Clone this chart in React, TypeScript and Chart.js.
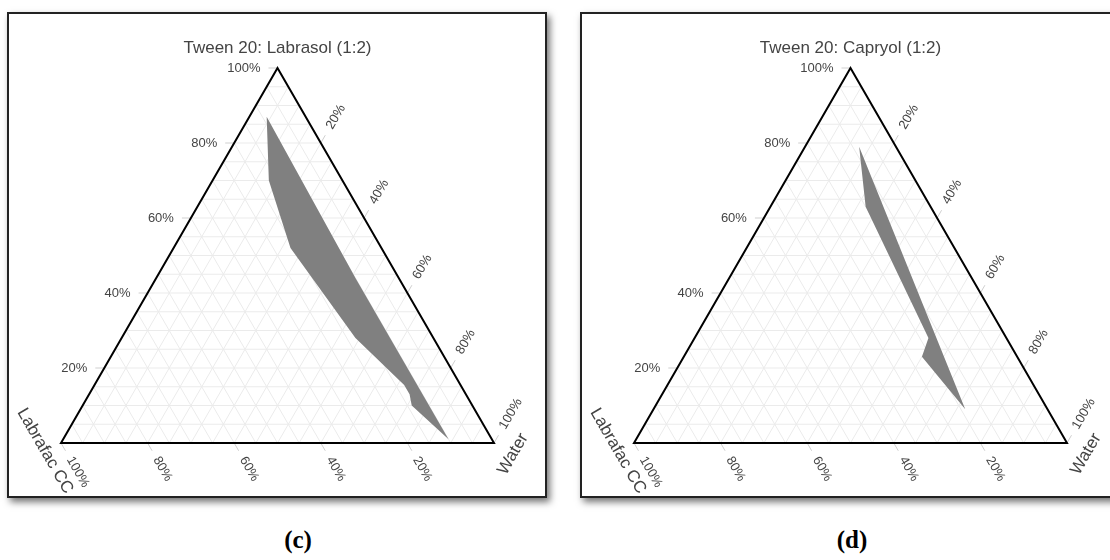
import React, { useEffect, useRef } from "react";
import { Chart, registerables } from "chart.js";

Chart.register(...registerables);

// ---------- data ----------
const tickValues = [0.2, 0.4, 0.6, 0.8, 1.0];
const tickLabels = ["20%", "40%", "60%", "80%", "100%"];
const gridStep = 0.05;

// Panel (c)
const titleC_a = "Tween 20: Labrasol (1:2)";
const titleC_b = "Labrafac CC";
const titleC_c = "Water";
const regionC_tween = [0.87, 0.70, 0.52, 0.28, 0.155, 0.13, 0.10, 0.01, 0.44];
const regionC_oil = [0.09, 0.17, 0.21, 0.18, 0.13, 0.13, 0.14, 0.10, 0.10];
const regionC_water = [0.04, 0.13, 0.27, 0.54, 0.715, 0.74, 0.76, 0.89, 0.46];

// Panel (d)
const titleD_a = "Tween 20: Capryol (1:2)";
const titleD_b = "Labrafac CC";
const titleD_c = "Water";
const regionD_tween = [0.79, 0.63, 0.28, 0.23, 0.09];
const regionD_oil = [0.085, 0.15, 0.18, 0.22, 0.19];
const regionD_water = [0.125, 0.22, 0.54, 0.55, 0.72];

const panelLabels = ["(c)", "(d)"];

// ---------- layout / style ----------
const FONT = '"Liberation Sans", Arial, sans-serif';
const S3 = Math.sqrt(3) / 2;
const PANEL_W = 540;
const PANEL_H = 486;
const BORDER = 2;
const CANVAS_W = PANEL_W - 2 * BORDER;
const CANVAS_H = PANEL_H - 2 * BORDER;
const SIDE = 433; // px per unit of triangle side
const TRI_LEFT = 52; // px from canvas left to bottom-left vertex
const TRI_BOTTOM = 429; // px from canvas top to bottom edge

function tern(a: number, b: number, c: number) {
  const s = a + b + c;
  return { x: (c + a / 2) / s, y: (a * S3) / s };
}

const GAP = { x: NaN, y: NaN };

function gridData(axis: "a" | "b" | "c") {
  const pts: any[] = [];
  const n = Math.round(1 / gridStep);
  for (let i = 1; i < n; i++) {
    const k = i * gridStep;
    if (axis === "a") pts.push(tern(k, 1 - k, 0), tern(k, 0, 1 - k), GAP);
    if (axis === "b") pts.push(tern(0, k, 1 - k), tern(1 - k, k, 0), GAP);
    if (axis === "c") pts.push(tern(1 - k, 0, k), tern(0, 1 - k, k), GAP);
  }
  return pts;
}

function tickData() {
  const L = 9 / SIDE;
  const pts: any[] = [];
  tickValues.forEach((v) => {
    const pa = tern(v, 1 - v, 0);
    pts.push(pa, { x: pa.x - L, y: pa.y }, GAP);
    const pb = tern(0, v, 1 - v);
    pts.push(pb, { x: pb.x + L * 0.5, y: pb.y - L * S3 }, GAP);
    const pc = tern(1 - v, 0, v);
    pts.push(pc, { x: pc.x + L * 0.5, y: pc.y + L * S3 }, GAP);
  });
  return pts;
}

const labelPlugin = {
  id: "ternaryLabels",
  afterDraw(chart: any, _args: any, opts: any) {
    const { ctx } = chart;
    const xs = chart.scales.x;
    const ys = chart.scales.y;
    const P = (a: number, b: number, c: number) => {
      const t = tern(a, b, c);
      return { x: xs.getPixelForValue(t.x), y: ys.getPixelForValue(t.y) };
    };
    ctx.save();
    ctx.fillStyle = "#444";
    ctx.font = `13px ${FONT}`;
    const off = 17;
    tickValues.forEach((v, i) => {
      const p = P(v, 1 - v, 0);
      ctx.textAlign = "right";
      ctx.textBaseline = "middle";
      ctx.fillText(tickLabels[i], p.x - off, p.y);

      const pb = P(0, v, 1 - v);
      ctx.save();
      ctx.translate(pb.x + off * 0.5, pb.y + off * S3);
      ctx.rotate(Math.PI / 3);
      ctx.textAlign = "left";
      ctx.fillText(tickLabels[i], 0, 0);
      ctx.restore();

      const pc = P(1 - v, 0, v);
      ctx.save();
      ctx.translate(pc.x + off * 0.5, pc.y - off * S3);
      ctx.rotate(-Math.PI / 3);
      ctx.textAlign = "left";
      ctx.fillText(tickLabels[i], 0, 0);
      ctx.restore();
    });

    ctx.font = `17px ${FONT}`;
    ctx.fillStyle = "#444";
    ctx.textAlign = "center";
    ctx.textBaseline = "middle";
    const apex = P(1, 0, 0);
    ctx.fillText(opts.a, apex.x, apex.y - 20);

    const bl = P(0, 1, 0);
    ctx.save();
    ctx.translate(bl.x - 16, bl.y + 8);
    ctx.rotate(Math.PI / 3);
    ctx.fillText(opts.b, 0, 0);
    ctx.restore();

    const br = P(0, 0, 1);
    ctx.save();
    ctx.translate(br.x + 19, br.y + 11);
    ctx.rotate(-Math.PI / 3);
    ctx.fillText(opts.c, 0, 0);
    ctx.restore();
    ctx.restore();
  },
};

type PanelCfg = {
  left: number;
  label: string;
  a: string;
  b: string;
  c: string;
  ra: number[];
  rb: number[];
  rc: number[];
};

const panels: PanelCfg[] = [
  { left: 7, label: panelLabels[0], a: titleC_a, b: titleC_b, c: titleC_c, ra: regionC_tween, rb: regionC_oil, rc: regionC_water },
  { left: 580, label: panelLabels[1], a: titleD_a, b: titleD_b, c: titleD_c, ra: regionD_tween, rb: regionD_oil, rc: regionD_water },
];

function Panel({ cfg }: { cfg: PanelCfg }) {
  const ref = useRef<HTMLCanvasElement>(null);
  useEffect(() => {
    const region = cfg.ra.map((a, i) => tern(a, cfg.rb[i], cfg.rc[i]));
    const frame = [tern(0, 1, 0), tern(0, 0, 1), tern(1, 0, 0), tern(0, 1, 0), tern(0, 0, 1)];
    const lineBase = { showLine: true, pointRadius: 0, pointHoverRadius: 0, tension: 0, fill: false };
    const chart = new Chart(ref.current!, {
      type: "scatter",
      data: {
        datasets: [
          { ...lineBase, label: "frame", data: frame, borderColor: "#000", borderWidth: 2, borderJoinStyle: "miter", order: 0 },
          {
            ...lineBase,
            label: "region",
            data: region,
            fill: "shape",
            backgroundColor: "rgb(128,128,128)",
            borderColor: "rgba(0,0,0,0)",
            borderWidth: 0,
            order: 1,
          },
          { ...lineBase, label: "ticks", data: tickData(), borderColor: "#cfcfcf", borderWidth: 1, order: 2 },
          { ...lineBase, label: "gridA", data: gridData("a"), borderColor: "#ebebeb", borderWidth: 1, order: 3 },
          { ...lineBase, label: "gridB", data: gridData("b"), borderColor: "#ebebeb", borderWidth: 1, order: 3 },
          { ...lineBase, label: "gridC", data: gridData("c"), borderColor: "#ebebeb", borderWidth: 1, order: 3 },
        ] as any,
      },
      options: {
        animation: false,
        responsive: false,
        maintainAspectRatio: false,
        layout: { padding: 0 },
        events: [],
        plugins: {
          legend: { display: false },
          tooltip: { enabled: false },
          ternaryLabels: { a: cfg.a, b: cfg.b, c: cfg.c },
        } as any,
        scales: {
          x: { type: "linear", display: false, min: -TRI_LEFT / SIDE, max: (CANVAS_W - TRI_LEFT) / SIDE },
          y: { type: "linear", display: false, min: -(CANVAS_H - TRI_BOTTOM) / SIDE, max: TRI_BOTTOM / SIDE },
        },
      },
      plugins: [labelPlugin],
    });
    return () => chart.destroy();
  }, []);
  return (
    <div
      style={{
        position: "absolute",
        left: cfg.left,
        top: 12,
        width: PANEL_W,
        height: PANEL_H,
        boxSizing: "border-box",
        border: `${BORDER}px solid #222`,
        background: "#fff",
        boxShadow: "3px 4px 7px rgba(0,0,0,0.55)",
        overflow: "hidden",
      }}
    >
      <canvas ref={ref} width={CANVAS_W} height={CANVAS_H} style={{ display: "block" }} />
    </div>
  );
}

export default function App() {
  const labelCenters = [298, 852];
  return (
    <div style={{ position: "fixed", left: 0, top: 0, width: 1110, height: 560, overflow: "hidden", background: "#fff" }}>
      {panels.map((p) => (
        <Panel key={p.label} cfg={p} />
      ))}
      {panels.map((p, i) => (
        <div
          key={"lbl" + i}
          style={{
            position: "absolute",
            left: labelCenters[i] - 50,
            width: 100,
            top: 525,
            textAlign: "center",
            font: 'bold 25px "Liberation Serif", "Times New Roman", serif',
            lineHeight: "30px",
            color: "#000",
          }}
        >
          {p.label}
        </div>
      ))}
    </div>
  );
}
